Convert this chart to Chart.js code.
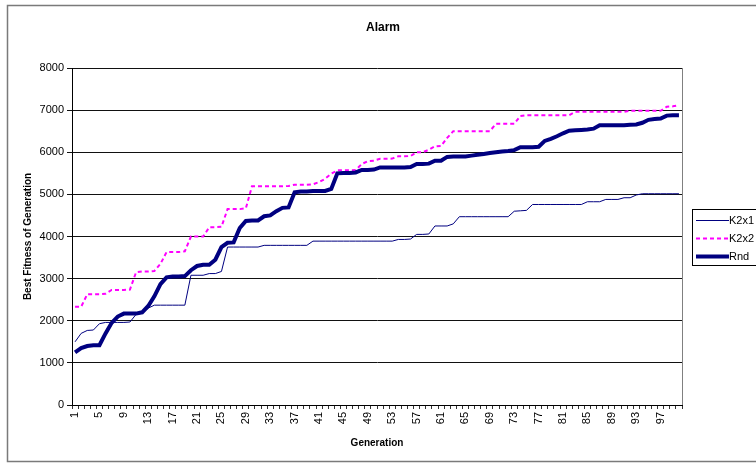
<!DOCTYPE html>
<html><head><meta charset="utf-8">
<script src="https://cdn.jsdelivr.net/npm/chart.js@4.4.1/dist/chart.umd.min.js"></script>
<style>html,body{margin:0;padding:0;background:#fff;}#wrap{width:756px;height:466px;}</style>
</head><body><div id="wrap"><canvas id="c" width="756" height="466"></canvas></div>
<script>
const generations = [1,2,3,4,5,6,7,8,9,10,11,12,13,14,15,16,17,18,19,20,21,22,23,24,25,26,27,28,29,30,31,32,33,34,35,36,37,38,39,40,41,42,43,44,45,46,47,48,49,50,51,52,53,54,55,56,57,58,59,60,61,62,63,64,65,66,67,68,69,70,71,72,73,74,75,76,77,78,79,80,81,82,83,84,85,86,87,88,89,90,91,92,93,94,95,96,97,98,99,100];
const k2x1 = [1500,1700,1770,1780,1930,1960,1960,1960,1960,1970,2150,2180,2300,2370,2370,2370,2370,2370,2370,3080,3080,3080,3120,3120,3170,3750,3750,3750,3750,3750,3750,3790,3790,3790,3790,3790,3790,3790,3790,3890,3890,3890,3890,3890,3890,3890,3890,3890,3890,3890,3890,3890,3890,3930,3930,3940,4050,4050,4060,4250,4250,4250,4300,4470,4470,4470,4470,4470,4470,4470,4470,4470,4600,4610,4620,4760,4760,4760,4760,4760,4760,4760,4760,4760,4825,4825,4825,4880,4880,4880,4920,4920,4985,5015,5015,5015,5015,5015,5015,5015];
const k2x2 = [2330,2330,2630,2630,2630,2640,2730,2730,2730,2740,3150,3170,3170,3180,3350,3630,3630,3630,3650,4000,4000,4000,4220,4220,4230,4650,4650,4650,4670,5190,5190,5190,5190,5190,5190,5200,5230,5230,5230,5240,5290,5370,5490,5570,5570,5570,5580,5720,5790,5800,5845,5845,5850,5905,5905,5910,6000,6000,6060,6140,6150,6340,6500,6500,6500,6500,6500,6500,6500,6675,6675,6675,6675,6860,6880,6880,6880,6880,6880,6880,6880,6880,6960,6960,6960,6960,6960,6960,6960,6960,6960,6985,6985,6985,6985,6985,6985,7080,7090,7120];
const rnd = [1250,1350,1400,1420,1420,1700,1950,2100,2170,2170,2170,2200,2350,2580,2870,3030,3050,3050,3060,3200,3300,3330,3330,3450,3750,3850,3860,4200,4370,4380,4380,4480,4500,4600,4680,4690,5050,5070,5070,5080,5080,5080,5130,5500,5510,5510,5520,5580,5580,5590,5640,5640,5640,5640,5640,5650,5720,5720,5730,5800,5800,5890,5900,5900,5900,5920,5940,5960,5980,6000,6020,6030,6050,6120,6120,6120,6130,6270,6320,6380,6450,6510,6520,6530,6540,6560,6640,6640,6640,6640,6640,6650,6660,6700,6770,6790,6800,6870,6880,6880];
const seriesNames = ['K2x1','K2x2','Rnd'];
const chartTitle = 'Alarm';
const xTitle = 'Generation';
const yTitle = 'Best Fitness of Generation';

const FONT = "'Liberation Sans', Arial, sans-serif";

const framePlugin = {
  id: 'frame',
  beforeDraw(chart) {
    const ctx = chart.ctx;
    ctx.save();
    ctx.fillStyle = '#fff';
    ctx.fillRect(0, 0, chart.width, chart.height);
    ctx.strokeStyle = '#7a7a7a';
    ctx.lineWidth = 1.5;
    ctx.strokeRect(7.5, 5.5, 800, 456);
    ctx.restore();
  },
  afterDraw(chart) {
    const ctx = chart.ctx;
    const a = chart.chartArea;
    ctx.save();
    // chart title
    ctx.fillStyle = '#000';
    ctx.font = 'bold 12px ' + FONT;
    ctx.textAlign = 'center';
    ctx.textBaseline = 'middle';
    ctx.fillText(chartTitle, 383, 28);
    // plot area right border
    ctx.strokeStyle = '#808080';
    ctx.lineWidth = 1;
    ctx.beginPath();
    ctx.moveTo(Math.round(a.right) + 0.5, a.top);
    ctx.lineTo(Math.round(a.right) + 0.5, a.bottom);
    ctx.stroke();
    // legend
    const bx = 692.5, by = 209.5, bh = 56;
    ctx.strokeStyle = '#000';
    ctx.strokeRect(bx, by, 100, bh);
    const rows = [220.5, 238.5, 256.5];
    chart.data.datasets.forEach((ds, i) => {
      ctx.save();
      ctx.strokeStyle = ds.borderColor;
      ctx.lineWidth = ds.borderWidth;
      ctx.setLineDash(ds.borderDash || []);
      ctx.beginPath();
      ctx.moveTo(696, rows[i]);
      ctx.lineTo(729, rows[i]);
      ctx.stroke();
      ctx.restore();
      ctx.fillStyle = '#000';
      ctx.font = '11px ' + FONT;
      ctx.textBaseline = 'middle';
      ctx.textAlign = 'left';
      ctx.fillText(ds.label, 729, rows[i] + 0.5);
    });
    ctx.restore();
  }
};

new Chart(document.getElementById('c'), {
  type: 'line',
  data: {
    labels: generations,
    datasets: [
      { label: seriesNames[0], data: k2x1, borderColor: '#000080', borderWidth: 1, pointRadius: 0, tension: 0, fill: false, order: 2 },
      { label: seriesNames[1], data: k2x2, borderColor: '#FF00FF', borderWidth: 2, borderDash: [4, 3], pointRadius: 0, tension: 0, fill: false, order: 1 },
      { label: seriesNames[2], data: rnd, borderColor: '#000080', borderWidth: 4, pointRadius: 0, tension: 0, fill: false, order: 0 }
    ]
  },
  options: {
    responsive: false,
    animation: false,
    events: [],
    layout: { padding: { left: 0, right: 74, top: 68, bottom: 13 } },
    plugins: {
      legend: { display: false },
      tooltip: { enabled: false },
      title: { display: false }
    },
    scales: {
      x: {
        type: 'category',
        offset: true,
        grid: { display: true, drawOnChartArea: false, drawTicks: true, tickLength: 4, color: '#333', offset: true },
        border: { display: true, color: '#000', width: 1 },
        ticks: {
          autoSkip: false, maxRotation: 90, minRotation: 90, padding: 3, color: '#000',
          font: { family: FONT, size: 11 },
          callback: function(v, i) { return i % 4 === 0 ? String(generations[i]) : ''; }
        },
        title: { display: true, text: xTitle, color: '#000', font: { family: FONT, size: 10, weight: 'bold' }, padding: { top: 0, bottom: 4 } },
        afterFit(s) { s.height = 48; }
      },
      y: {
        min: 0, max: 8000,
        grid: { color: '#111', lineWidth: 1, tickLength: 5, drawTicks: true },
        border: { display: true, color: '#000', width: 1 },
        ticks: { stepSize: 1000, padding: 3, color: '#000', font: { family: FONT, size: 11 },
          callback: function(v) { return String(v); } },
        title: { display: true, text: yTitle, color: '#000', font: { family: FONT, size: 10, weight: 'bold' }, padding: { top: 22, bottom: 0 } },
        afterFit(s) { s.width = 72; }
      }
    }
  },
  plugins: [framePlugin]
});
</script></body></html>
